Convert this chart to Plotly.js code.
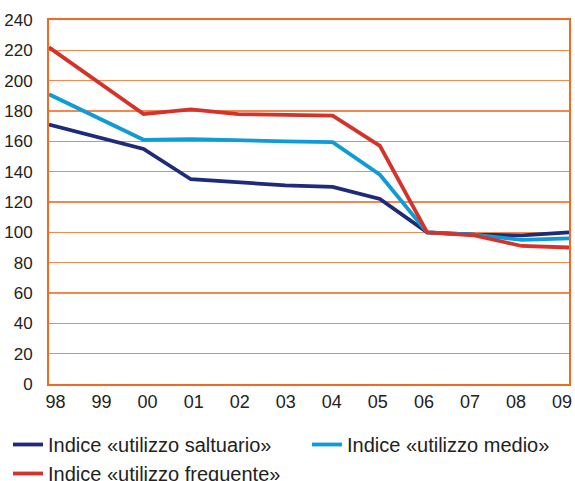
<!DOCTYPE html>
<html>
<head>
<meta charset="utf-8">
<script src="https://cdn.plot.ly/plotly-3.0.1.min.js"></script>
<style>html,body{margin:0;padding:0;background:#fff;}#chart{width:575px;height:481px;}</style>
</head>
<body>
<div id="chart"></div>
<script>
const years = ["98","99","00","01","02","03","04","05","06","07","08","09"];
const saltuario = [171, 163, 155, 135, 133, 131, 130, 122, 100, 98.5, 98, 100];
const medio = [191, 176, 161, 161.5, 160.5, 160, 159.5, 138, 100, 98.5, 95, 96];
const frequente = [222, 200, 178, 181, 178, 177.5, 177, 157, 100, 98, 91, 90];
const names = ["Indice «utilizzo saltuario»", "Indice «utilizzo medio»", "Indice «utilizzo frequente»"];
const colors = ["#1e2a7a", "#0e9bd8", "#d5322a"];
const series = [saltuario, medio, frequente];
const legendIds = ["legend", "legend2", "legend3"];

const idx = years.map((_, i) => i);
const traces = series.map((s, i) => ({
  x: idx, y: s, type: "scatter", mode: "lines", name: names[i],
  legend: legendIds[i],
  line: {color: colors[i], width: 3.8}
}));

const orange = "#f26a21";
const font = "Liberation Sans, Arial, sans-serif";
function leg(xpx, ytop) {
  return {
    orientation: "v", xref: "container", yref: "container",
    x: xpx / 575, xanchor: "left", y: 1 - ytop / 481, yanchor: "top",
    font: {size: 20, color: "#222", family: font},
    itemwidth: 30, bgcolor: "rgba(0,0,0,0)", borderwidth: 0
  };
}
// tick labels in the original are spread slightly narrower than the data span
const labelPos = idx.map(i => 0.1375 + 0.9742 * i);
const layout = {
  width: 575, height: 481,
  margin: {l: 49, r: 6, t: 20, b: 97, autoexpand: false},
  paper_bgcolor: "#fff", plot_bgcolor: "#fff",
  font: {family: font, color: "#222", size: 16},
  showlegend: true,
  legend: leg(8, 425),
  legend2: leg(307, 425),
  legend3: leg(8, 454),
  xaxis: {
    range: [0, 11], showgrid: false, automargin: false,
    tickvals: labelPos, ticktext: years,
    showline: true, linecolor: orange, linewidth: 2, mirror: true,
    ticks: "outside", ticklen: 0.5, tickcolor: "rgba(0,0,0,0)",
    tickfont: {size: 18, color: "#222", family: font}, zeroline: false
  },
  yaxis: {
    range: [0, 240], dtick: 20, tick0: 0, automargin: false,
    showgrid: true, gridcolor: "#f3874c", gridwidth: 1.2,
    showline: true, linecolor: orange, linewidth: 2, mirror: true,
    ticks: "outside", ticklen: 11, tickcolor: "rgba(0,0,0,0)",
    tickfont: {size: 17, color: "#222", family: font}, zeroline: false
  }
};
Plotly.newPlot("chart", traces, layout, {displayModeBar: false, staticPlot: true});
</script>
</body>
</html>
